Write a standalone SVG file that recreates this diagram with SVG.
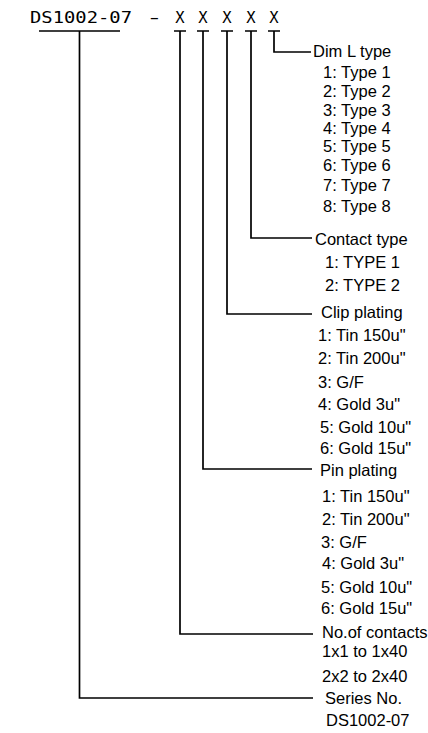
<svg xmlns="http://www.w3.org/2000/svg" width="428" height="733" viewBox="0 0 428 733">
<style>
.ln{fill:none;stroke:#000;stroke-width:1.7}
.code{font-family:"DejaVu Sans Mono","Liberation Mono",monospace;font-size:15.5px;fill:#000}
.t{font-family:"Liberation Sans",Arial,sans-serif;font-size:16.5px;fill:#000}
</style>
<rect width="428" height="733" fill="#fff"/>
<g id="code">
<text class="code" x="30" y="23" textLength="102" lengthAdjust="spacingAndGlyphs">DS1002-07</text>
<text class="code" x="0" y="23" text-anchor="middle" transform="translate(154.5 0) scale(1.8 1)">-</text>
<text class="code" x="180" y="23" text-anchor="middle">X</text>
<text class="code" x="203" y="23" text-anchor="middle">X</text>
<text class="code" x="227" y="23" text-anchor="middle">X</text>
<text class="code" x="251" y="23" text-anchor="middle">X</text>
<text class="code" x="274" y="23" text-anchor="middle">X</text>
</g>
<g id="connectors">
<path class="ln" d="M39 31H120M79.5 31V698H313"/>
<path class="ln" d="M174 31H186M180 31V634H313"/>
<path class="ln" d="M197 31H209M203 31V469H312"/>
<path class="ln" d="M221 31H233M227 31V314H312"/>
<path class="ln" d="M245 31H257M251 31V238H312"/>
<path class="ln" d="M268 31H280M274 31V52H311"/>
</g>
<g id="dim-l-type">
<text class="t" x="313" y="57">Dim L type</text>
<text class="t" x="323" y="78">1: Type 1</text>
<text class="t" x="323" y="97">2: Type 2</text>
<text class="t" x="323" y="116">3: Type 3</text>
<text class="t" x="323" y="134">4: Type 4</text>
<text class="t" x="323" y="152">5: Type 5</text>
<text class="t" x="323" y="171">6: Type 6</text>
<text class="t" x="323" y="191">7: Type 7</text>
<text class="t" x="323" y="212">8: Type 8</text>
</g>
<g id="contact-type">
<text class="t" x="315" y="245">Contact type</text>
<text class="t" x="325" y="268">1: TYPE 1</text>
<text class="t" x="325" y="291">2: TYPE 2</text>
</g>
<g id="clip-plating">
<text class="t" x="321" y="318">Clip plating</text>
<text class="t" x="318" y="341">1: Tin 150u"</text>
<text class="t" x="318" y="364">2: Tin 200u"</text>
<text class="t" x="318" y="388">3: G/F</text>
<text class="t" x="318" y="410">4: Gold 3u"</text>
<text class="t" x="320" y="433">5: Gold 10u"</text>
<text class="t" x="320" y="454">6: Gold 15u"</text>
</g>
<g id="pin-plating">
<text class="t" x="320" y="476">Pin plating</text>
<text class="t" x="322" y="502">1: Tin 150u"</text>
<text class="t" x="322" y="525">2: Tin 200u"</text>
<text class="t" x="321" y="548">3: G/F</text>
<text class="t" x="322" y="569">4: Gold 3u"</text>
<text class="t" x="321" y="593">5: Gold 10u"</text>
<text class="t" x="321" y="614">6: Gold 15u"</text>
</g>
<g id="no-of-contacts">
<text class="t" x="322" y="638">No.of contacts</text>
<text class="t" x="322" y="657">1x1 to 1x40</text>
<text class="t" x="322" y="682">2x2 to 2x40</text>
</g>
<g id="series-no">
<text class="t" x="325" y="704">Series No.</text>
<text class="t" x="326" y="726">DS1002-07</text>
</g>
</svg>
